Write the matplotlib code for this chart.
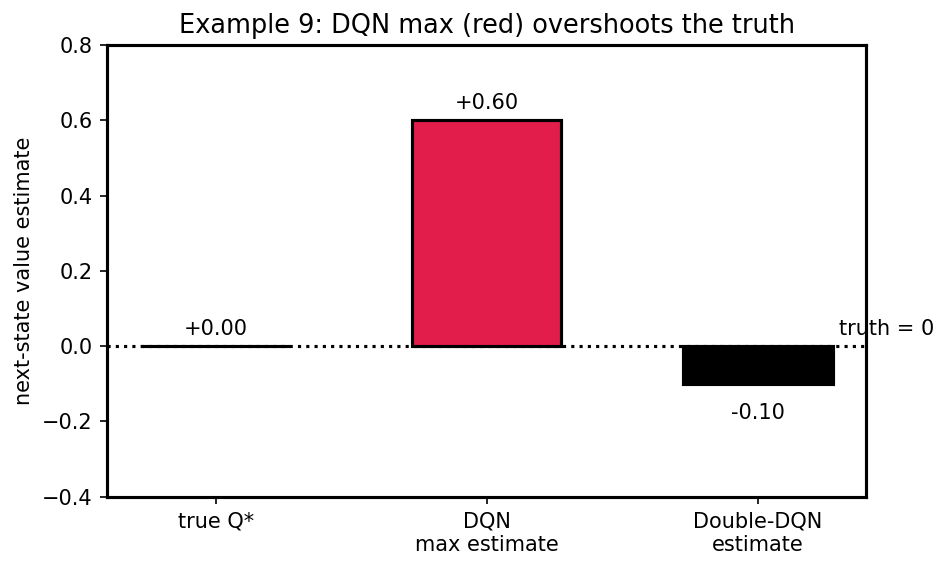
import matplotlib
matplotlib.use("Agg")
import matplotlib.pyplot as plt

# bar categories and estimated next-state values
labels = ["true Q*", "DQN\nmax estimate", "Double-DQN\nestimate"]
values = [0.0, 0.60, -0.10]
colors = ["white", "#e31d4b", "black"]

fig, ax = plt.subplots(figsize=(950 / 150, 569 / 150), dpi=150)
fig.subplots_adjust(left=0.113, right=0.912, top=0.921, bottom=0.127)

ax.axhline(0, color="black", linestyle=":", linewidth=1.5, zorder=1)
x = list(range(len(values)))
ax.bar(x, values, width=0.55, color=colors, edgecolor="black", linewidth=1.5, zorder=2)

for xi, v in zip(x, values):
    if v >= 0:
        ax.text(xi, v + 0.02, "%+.2f" % v, ha="center", va="bottom", fontsize=10)
    else:
        ax.text(xi, v - 0.05, "%.2f" % v, ha="center", va="top", fontsize=10)

ax.text(2.3, 0.02, "truth = 0", ha="left", va="bottom", fontsize=10)

ax.set_xticks(x)
ax.set_xticklabels(labels)
ax.set_xlim(-0.4, 2.4)
ax.set_ylim(-0.4, 0.8)
ax.set_ylabel("next-state value estimate")
ax.set_title("Example 9: DQN max (red) overshoots the truth", fontsize=12.3, pad=5.5)
for s in ax.spines.values():
    s.set_linewidth(1.5)

fig.savefig("out.png", dpi=150)
